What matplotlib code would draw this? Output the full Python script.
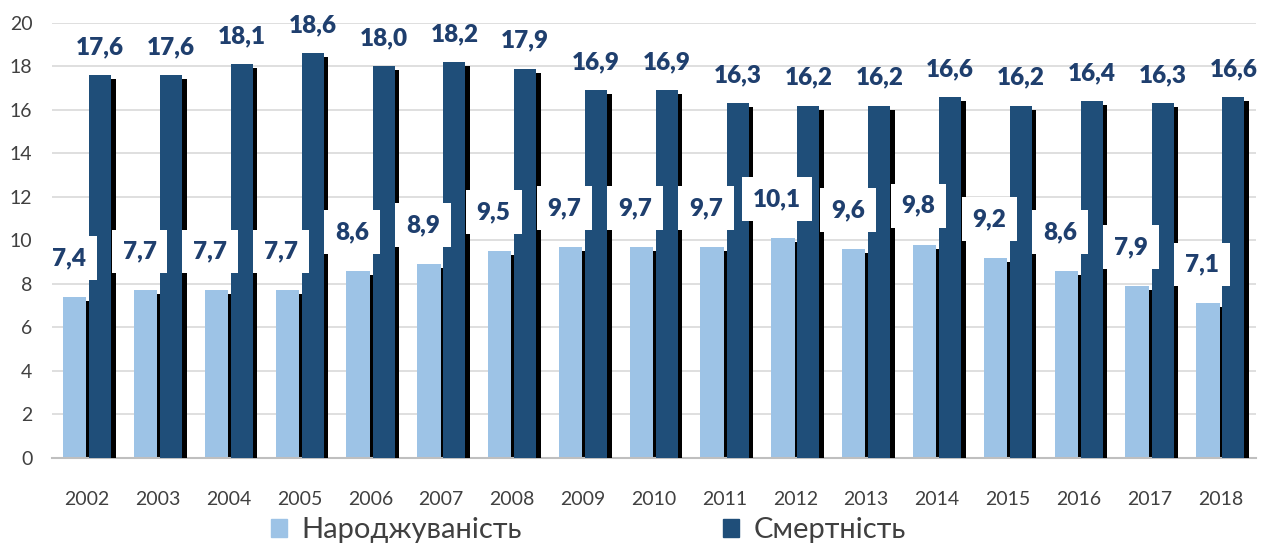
import numpy as np
import matplotlib
matplotlib.use('Agg')
import matplotlib.pyplot as plt
import matplotlib.patheffects as pe
from matplotlib.patches import Patch

plt.rcParams['font.family'] = ['Lato', 'Open Sans', 'DejaVu Sans']

years = ['2002', '2003', '2004', '2005', '2006', '2007', '2008', '2009', '2010',
         '2011', '2012', '2013', '2014', '2015', '2016', '2017', '2018']
birth = [7.4, 7.7, 7.7, 7.7, 8.6, 8.9, 9.5, 9.7, 9.7, 9.7, 10.1, 9.6, 9.8, 9.2, 8.6, 7.9, 7.1]
death = [17.6, 17.6, 18.1, 18.6, 18.0, 18.2, 17.9, 16.9, 16.9, 16.3, 16.2, 16.2, 16.6, 16.2, 16.4, 16.3, 16.6]

c_light = '#9DC3E6'
c_dark = '#1F4E79'
c_text = '#1F3F6E'

fig = plt.figure(figsize=(12.62, 5.45), dpi=100)
ax = fig.add_axes([0.041, 0.160, 0.954, 0.798])

x = np.arange(len(years))
shadow = [pe.SimplePatchShadow(offset=(3.3, -2.9), shadow_rgbFace='black', alpha=1.0), pe.Normal()]

b1 = ax.bar(x - 0.175, birth, width=0.33, color=c_light, zorder=2)
b2 = ax.bar(x + 0.185, death, width=0.31, color=c_dark, zorder=3)
for r in b1:
    r.set_path_effects(shadow)
for r in b2:
    r.set_path_effects(shadow)

for xi, v in zip(x, birth):
    ax.annotate(f'{v:.1f}'.replace('.', ','), (xi - 0.26, v), xytext=(0, 28),
                textcoords='offset points', ha='center', va='center',
                fontsize=17.5, fontweight='heavy', color=c_text, zorder=5,
                bbox=dict(boxstyle='square,pad=0.45', fc='white', ec='none'))
for xi, v in zip(x, death):
    ax.annotate(f'{v:.1f}'.replace('.', ','), (xi + 0.185, v), xytext=(0, 20),
                textcoords='offset points', ha='center', va='center',
                fontsize=17.5, fontweight='heavy', color=c_text, zorder=5)

ax.set_xlim(-0.5, len(years) - 0.5)
ax.set_ylim(0, 20)
ax.set_yticks(np.arange(0, 21, 2))
ax.set_xticks(x)
ax.set_xticklabels(years)
ax.tick_params(axis='both', length=0, labelsize=14, labelcolor='#404040')
ax.tick_params(axis='x', pad=24)
ax.tick_params(axis='y', pad=14)
ax.grid(axis='y', color='#D9D9D9', linewidth=1.2, zorder=0)
ax.set_axisbelow(True)
for s in ['top', 'right', 'left']:
    ax.spines[s].set_visible(False)
ax.spines['bottom'].set_color('#BFBFBF')
ax.spines['bottom'].set_linewidth(1.5)

handles = [Patch(color=c_light, label='Народжуваність'), Patch(color=c_dark, label='Смертність')]
fig.legend(handles=handles, loc='lower left', bbox_to_anchor=(0.194, -0.045), ncol=2,
           frameon=False, fontsize=21, handlelength=0.55, handleheight=0.55,
           handletextpad=0.5, columnspacing=6.9, labelcolor='#404040')

fig.savefig('out.png', dpi=100)
